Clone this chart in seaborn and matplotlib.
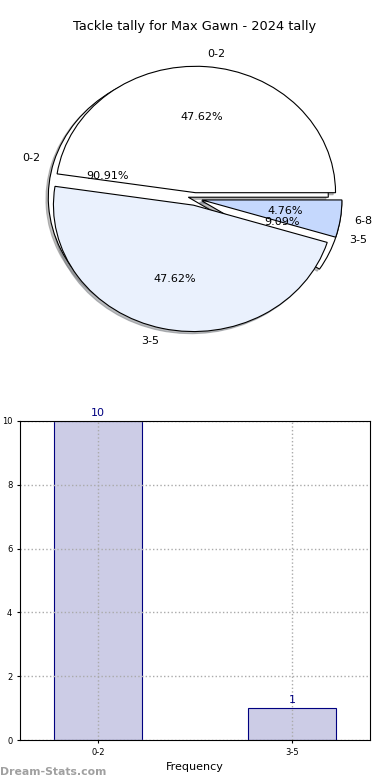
import matplotlib
matplotlib.use('Agg')
import matplotlib.pyplot as plt
import pandas as pd
import seaborn as sns

# data
title = 'Tackle tally for Max Gawn - 2024 tally'
cats_all = ['0-2', '3-5', '6-8']
counts_all = [10, 10, 1]
cats_bar = ['0-2', '3-5']
counts_bar = [10, 1]

df = pd.DataFrame({'range': cats_bar, 'count': counts_bar})

fig = plt.figure(figsize=(3.9, 7.8), dpi=100)

# --- pie(s) on top ---
ax1 = fig.add_axes([20/390, 1 - 357/780, 350/390, 316/780])
shadow = {'ox': -0.012, 'oy': -0.012, 'shade': 0.5}
# the underlying pie (bar data), drawn first
w2, t2, a2 = ax1.pie(counts_bar, labels=cats_bar, autopct='%1.2f%%',
                     explode=[0.05, 0.05], shadow=shadow,
                     colors=['white', 'white'],
                     wedgeprops={'edgecolor': 'black', 'linewidth': 0.8},
                     textprops={'fontsize': 8})
# the full pie on top
w1, t1, a1 = ax1.pie(counts_all, labels=cats_all, autopct='%1.2f%%',
                     explode=[0.05, 0.05, 0.05], shadow=shadow,
                     colors=['white', '#eaf1fd', '#c5d8fd'],
                     wedgeprops={'edgecolor': 'black', 'linewidth': 0.8},
                     textprops={'fontsize': 8})
ax1.set_aspect('auto')
ax1.set_xlim(-1.25, 1.25)
ax1.set_ylim(-1.25, 1.25)
ax1.set_title(title, fontsize=9.3, pad=8)

# --- bar chart below ---
ax2 = fig.add_axes([20/390, 40/780, 350/390, 319/780])
sns.barplot(data=df, x='range', y='count', ax=ax2, width=0.45,
            color='#ccccE6', saturation=1, edgecolor='navy', linewidth=0.8)
ax2.set_xlim(-0.4, 1.4)
ax2.set_ylim(0, 10)
ax2.set_yticks([0, 2, 4, 6, 8, 10])
ax2.tick_params(labelsize=6, length=2)
ax2.grid(True, linestyle=':', color='#aaaaaa', linewidth=1)
ax2.set_axisbelow(False)
for s in ax2.spines.values():
    s.set_zorder(5)
for c in ax2.containers:
    ax2.bar_label(c, color='navy', fontsize=8, padding=2)
ax2.set_xlabel('Frequency', fontsize=8)
ax2.set_ylabel('Occurrences', fontsize=8)
ax2.yaxis.set_label_coords(-0.062, 0.5)

fig.text(0.0, 0.007, 'Dream-Stats.com', color='#a0a0a0', fontsize=7.8,
         fontweight='bold')

fig.savefig('out.png', dpi=100)
